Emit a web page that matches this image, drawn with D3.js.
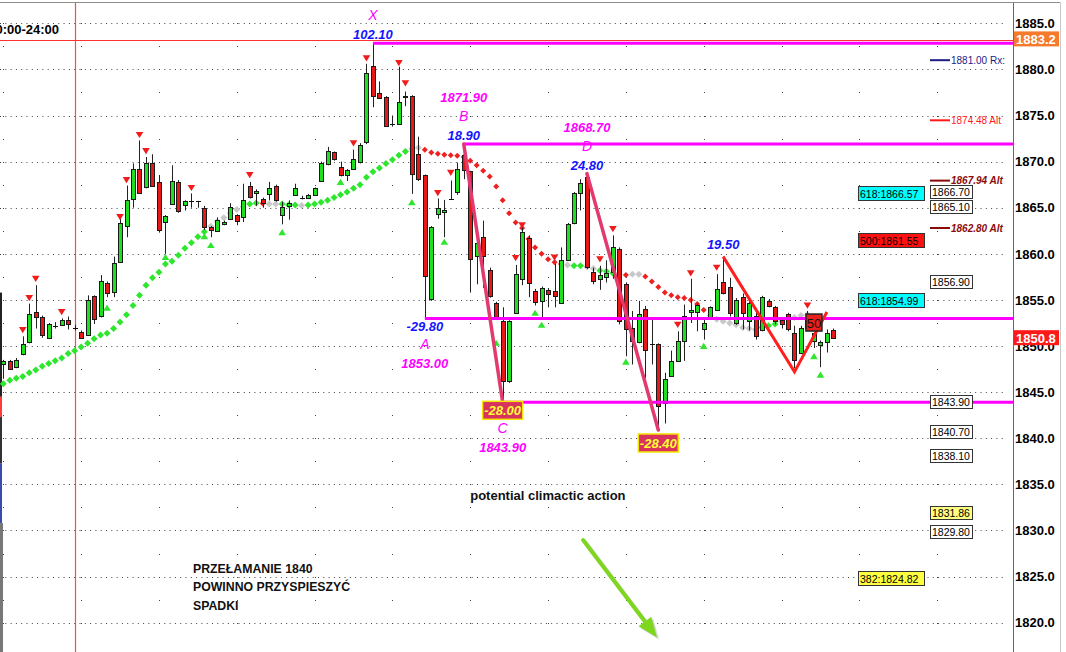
<!DOCTYPE html>
<html>
<head>
<meta charset="utf-8">
<script src="https://cdn.jsdelivr.net/npm/d3@7"></script>
<style>
  body { margin: 0; background: #fff; }
  svg { display: block; font-family: Arial, "Liberation Sans", sans-serif; }
</style>
</head>
<body>
<div id="display"></div>
<script>
// ---------- data ----------
// candles, one per bar, left to right
const openP = [
  1848.1,1848.4,1847.7,1849.1,1850.4,1853.7,1853.2,1850.9,1852.2,1852.25,
  1852.8,1852.0,1851.5,1851.2,1855.4,1853.3,1856.85,1855.9,1859.1,1863.0,
  1866.0,1869.2,1867.2,1869.8,1867.8,1863.4,1865.4,1867.8,1865.25,1865.75,
  1865.75,1865.0,1862.9,1862.5,1863.2,1863.8,1864.2,1864.0,1867.35,1866.55,
  1866.0,1866.5,1867.35,1864.2,1865.2,1866.4,1866.1,1866.1,1866.4,1867.9,
  1869.7,1871.0,1869.45,1868.55,1869.2,1870.0,1872.1,1880.35,1877.4,1877.0,
  1874.1,1874.1,1877.0,1877.1,1870.8,1868.5,1855.1,1864.3,1864.5,1865.95,
  1866.7,1870.7,1869.0,1859.8,1861.8,1858.3,1854.7,1852.7,1846.2,1853.6,
  1857.3,1861.75,1856.0,1854.9,1856.1,1856.0,1854.7,1859.35,1863.3,1866.6,
  1868.3,1858.0,1857.3,1857.45,1858.0,1860.55,1856.7,1852.0,1850.4,1854.0,
  1850.25,1850.25,1843.8,1846.8,1848.4,1850.55,1853.65,1853.7,1851.8,1853.1,
  1853.9,1857.0,1856.35,1852.5,1855.3,1852.7,1853.3,1851.7,1854.9,1854.2,
  1852.85,1853.5,1851.45,1849.3,1853.2,1850.55,1850.1,1850.4,1851.7
];
const highP = [
  1848.5,1848.5,1848.7,1851.05,1854.6,1856.6,1853.3,1852.5,1852.6,1853.0,
  1853.2,1852.3,1851.7,1855.5,1855.5,1857.7,1857.0,1859.7,1864.2,1867.4,
  1869.8,1872.3,1870.5,1870.8,1868.55,1864.2,1869.6,1868.0,1865.8,1866.55,
  1865.75,1865.2,1863.0,1863.95,1863.6,1865.5,1864.3,1867.6,1867.8,1867.0,
  1866.1,1867.8,1867.5,1865.65,1865.8,1867.6,1866.3,1866.5,1867.2,1870.0,
  1871.6,1871.1,1870.0,1869.2,1871.3,1872.0,1880.6,1882.85,1878.7,1877.1,
  1875.0,1880.3,1877.6,1877.2,1872.7,1868.6,1863.0,1866.0,1865.85,1867.95,
  1869.9,1871.9,1869.0,1861.8,1863.6,1858.5,1854.8,1854.2,1852.8,1858.8,
  1863.1,1862.0,1856.2,1856.45,1856.3,1858.9,1860.7,1863.35,1866.7,1868.1,
  1868.7,1858.5,1858.7,1859.3,1862.0,1860.7,1856.9,1853.8,1854.9,1854.35,
  1852.9,1850.3,1847.1,1849.5,1851.6,1854.5,1857.3,1854.6,1852.9,1854.3,
  1857.8,1859.7,1857.4,1855.2,1855.7,1854.9,1853.8,1855.45,1855.1,1854.35,
  1853.0,1853.6,1852.2,1852.2,1853.8,1851.5,1850.6,1851.8,1851.9
];
const lowP = [
  1846.45,1847.4,1847.6,1849.0,1850.3,1851.9,1850.9,1850.8,1851.9,1852.2,
  1851.8,1851.7,1850.8,1851.1,1852.4,1853.1,1855.3,1855.3,1859.0,1861.8,
  1865.0,1866.5,1867.1,1867.3,1862.3,1860.0,1865.3,1864.45,1864.7,1865.0,
  1865.0,1862.6,1861.8,1862.4,1863.1,1863.7,1863.1,1863.45,1866.0,1865.2,
  1865.0,1865.8,1865.65,1863.2,1863.7,1866.3,1865.9,1866.0,1866.35,1867.85,
  1869.6,1870.1,1868.4,1867.9,1869.1,1869.8,1871.9,1875.9,1876.8,1873.8,
  1873.8,1874.0,1876.0,1866.5,1867.9,1853.0,1854.9,1863.8,1861.8,1865.9,
  1866.4,1868.1,1855.8,1856.7,1856.3,1855.25,1853.0,1843.9,1846.0,1853.5,
  1856.6,1855.3,1854.4,1853.1,1854.2,1854.2,1854.6,1859.3,1863.2,1864.7,
  1858.35,1856.7,1856.1,1856.9,1857.3,1852.35,1848.9,1848.0,1850.3,1846.55,
  1848.0,1840.9,1841.6,1846.7,1848.3,1848.4,1852.5,1851.6,1850.7,1853.0,
  1853.8,1855.6,1853.2,1852.3,1851.8,1851.7,1850.7,1851.6,1854.2,1852.35,
  1851.9,1851.6,1847.6,1849.2,1851.8,1849.8,1847.7,1849.3,1850.8
];
const closeP = [
  1848.4,1847.5,1848.5,1850.2,1853.5,1853.1,1851.2,1852.4,1852.2,1852.8,
  1852.4,1852.0,1850.9,1855.0,1852.9,1857.1,1855.8,1859.0,1863.3,1865.8,
  1869.2,1866.6,1869.8,1867.4,1862.6,1864.1,1867.9,1864.6,1865.75,1865.75,
  1865.75,1862.9,1862.55,1863.7,1863.5,1865.1,1863.6,1865.8,1866.2,1866.85,
  1865.5,1867.1,1865.8,1865.1,1865.55,1867.1,1866.1,1866.4,1867.1,1869.9,
  1871.2,1870.25,1868.55,1869.1,1870.25,1871.8,1879.6,1877.1,1876.9,1873.9,
  1874.1,1876.45,1877.1,1868.7,1868.1,1857.6,1862.9,1865.0,1864.7,1865.95,
  1869.2,1869.1,1859.4,1861.2,1859.8,1855.4,1853.05,1846.2,1852.7,1857.85,
  1862.4,1856.8,1854.8,1856.3,1855.6,1855.45,1859.35,1863.2,1866.55,1867.7,
  1858.55,1857.1,1857.75,1857.9,1860.7,1852.7,1851.8,1850.55,1853.5,1849.6,
  1850.25,1843.45,1846.4,1848.4,1850.5,1853.3,1853.9,1854.4,1852.55,1854.25,
  1856.2,1855.7,1853.6,1855.0,1853.6,1854.7,1851.1,1855.3,1854.35,1852.7,
  1852.4,1851.8,1848.5,1852.0,1852.0,1851.4,1850.4,1851.45,1850.9
];

// trailing-stop dots (one per bar from the first) and their state: g up, r down, n neutral
const trailP = [
  1845.9,1846.3,1846.5,1846.7,1847.1,1847.4,1847.8,1848.1,1848.4,1848.7,
  1849.2,1849.5,1849.9,1850.3,1850.8,1851.2,1851.4,1851.9,1852.6,1853.4,
  1854.4,1855.5,1856.6,1857.4,1858.0,1858.9,1859.2,1859.85,1860.6,1861.2,
  1861.85,1862.4,1863.0,1863.5,1863.9,1864.4,1864.8,1865.1,1865.4,1865.5,
  1865.45,1865.4,1865.4,1865.4,1865.3,1865.3,1865.25,1865.3,1865.4,1865.6,
  1865.8,1866.1,1866.4,1866.7,1867.1,1867.5,1868.3,1868.9,1869.3,1869.8,
  1870.2,1870.7,1871.1,1871.4,1871.5,1871.3,1871.0,1870.85,1870.75,1870.7,
  1870.65,1870.5,1870.1,1869.6,1869.0,1868.4,1867.3,1865.8,1864.4,1863.4,
  1862.8,1861.6,1860.7,1860.0,1859.4,1859.1,1858.9,1858.8,1858.7,1858.7,
  1858.6,1858.4,1858.2,1858.1,1857.9,1857.8,1857.7,1857.8,1857.8,1857.55,
  1857.0,1856.4,1855.8,1855.5,1855.3,1855.2,1855.0,1854.55,1853.9,1853.3,
  1852.9,1852.7,1852.5,1852.3,1852.0,1851.9,1851.8,1852.0,1852.2,1852.4,
  1852.7,1852.9,1853.1,1853.3,1853.4
];
const trailState = ('gggggggggggggggggggggggggggggggg' + 'nnnnnn' + 'gg' + 'r' + 'nn' +
  'ggg' + 'n' + 'gggggggggggggggg' + 'nn' + 'rrrrrrrrrrrrrrrrrrrrrr' + 'n' + 'gg' +
  'nn' + 'ggg' + 'rr' + 'nn' + 'rrrrrrrrrr' + 'nnnnnnnn' + 'ggg' + 'nnnnn').split('');

// pivot markers
const pivotHighIdx = [3,4,5,9,18,19,21,22,29,38,54,56,61,62,67,69,79,80,85,92,94,104,106,110,124];
const pivotHighVal = [1851.74,1855.2,1857.3,1853.7,1864.0,1868.0,1872.9,1871.15,1867.15,1868.55,
  1872.0,1881.2,1880.7,1878.5,1866.6,1868.8,1859.55,1863.1,1859.6,1859.4,1862.7,1852.3,1857.9,1858.5,1854.4];
const pivotLowIdx = [16,25,31,32,43,52,63,68,76,82,83,96,108,125,126];
const pivotLowVal = [1854.15,1859.65,1861.9,1860.95,1862.35,1867.8,1865.6,1861.3,1850.35,
  1853.6,1852.3,1848.3,1850.0,1848.9,1846.9];

// harmonic pattern swings
const swingName = ['X','A','B','C','D'];
const swingIdx = [57,65,71,77,90];
const swingVal = [1882.85,1853.0,1871.9,1843.9,1868.7];
const swingMove = ['102.10','-29.80','18.90','-28.00','24.80'];
const swingPriceText = ['','1853.00','1871.90','1843.90','1868.70'];
const legFrom = [71, 90];
const legTo = [77, 101];
const legFromVal = [1871.9, 1868.7];
const legToVal = [1843.9, 1840.9];
const extraMove = '-28.40';

// small red zigzag
const zigIdx = [111, 122, 127];
const zigVal = [1859.7, 1847.2, 1853.7];
const zigMove = '19.50';
const retraceText = '50';
const retraceIdx = 125;
const retraceVal = 1852.55;

// price scale
const priceTicks = [1820,1825,1830,1835,1840,1845,1850,1855,1860,1865,1870,1875,1880,1885];
const lastLabelVal = [1883.2, 1850.8];
const sessionIdx = 11;

// right-side levels
const fibRatio = ['618','500','618','382'];
const fibLevel = [1866.57, 1861.55, 1854.99, 1824.82];
const boxLevel = [1866.70, 1865.10, 1856.90, 1843.90, 1840.70, 1838.10, 1831.86, 1829.80];
const targetLevel = [1881.00, 1874.48, 1867.94, 1862.80];
const targetTag = ['Rx:', 'Alt', 'Alt', 'Alt'];

// notes
const noteText = 'potential climactic action';
const noteLines = ['PRZEŁAMANIE 1840', 'POWINNO PRZYSPIESZYĆ', 'SPADKI'];

// ---------- drawing ----------
const W = 1066, H = 652;
const axisX = 1013;

const svg = d3.select('#display')
    .append('svg')
        .attr('width', W)
        .attr('height', H);

svg.append('rect').attr('width', W).attr('height', H).attr('fill', '#fff');

const x = d3.scaleLinear().domain([0, 128]).range([3.3, 833.4]);
const y = d3.scaleLinear().domain([1820, 1885]).range([622.7, 23.3]);
const px = i => Math.round(x(i));
const py = v => Math.round(y(v));

// frame
svg.append('line').attr('x1', 0).attr('x2', 1060).attr('y1', 2.5).attr('y2', 2.5)
    .attr('stroke', '#8c8c8c');
svg.append('line').attr('x1', 1060.5).attr('x2', 1060.5).attr('y1', 2.5).attr('y2', H)
    .attr('stroke', '#c8c8c8');

// dotted grid
const grid = svg.append('g');
grid.selectAll('line')
    .data(priceTicks)
    .enter()
    .append('line')
        .attr('x1', 0).attr('x2', 1006)
        .attr('y1', d => py(d) + 0.5).attr('y2', d => py(d) + 0.5)
        .attr('stroke', '#444')
        .attr('stroke-dasharray', '1,4.3');

// column dots every 12 bars
const cols = d3.range(0, 156, 12).filter(i => x(i) < 1000);
const halfSteps = d3.range(1820, 1886, 2.5);
cols.forEach(c => {
    grid.selectAll(null)
        .data(halfSteps)
        .enter()
        .append('rect')
            .attr('x', px(c)).attr('y', d => py(d))
            .attr('width', 1).attr('height', 1)
            .attr('fill', '#444');
});

// left edge strip (partly hidden profile)
const stripTop = [1855.8, 1844.5, 1842.3, 1837.3, 1830.8];
const stripBot = [1844.5, 1842.3, 1837.3, 1830.8, 1816.5];
const stripCol = ['#222', '#ff3b3b', '#333', '#3a4bb0', '#777'];
svg.selectAll('rect.strip')
    .data(stripTop)
    .enter()
    .append('rect')
        .attr('class', 'strip')
        .attr('x', 0).attr('width', (d, i) => i === 4 ? 3 : 2)
        .attr('y', d => y(d))
        .attr('height', (d, i) => y(stripBot[i]) - y(d))
        .attr('fill', (d, i) => stripCol[i]);

// session line and last-high line
svg.append('line')
    .attr('x1', px(sessionIdx) + 0.5).attr('x2', px(sessionIdx) + 0.5)
    .attr('y1', 3).attr('y2', H)
    .attr('stroke', '#ff4a4a').attr('stroke-width', 1.2);
svg.append('line')
    .attr('x1', 0).attr('x2', axisX)
    .attr('y1', py(lastLabelVal[0]) + 0.5).attr('y2', py(lastLabelVal[0]) + 0.5)
    .attr('stroke', '#ff3030');

// top-left session text
svg.append('text')
    .attr('x', 59).attr('y', 34)
    .attr('text-anchor', 'end')
    .attr('font-size', 13).attr('font-weight', 'bold')
    .text('00:00-24:00');

// trailing dots
const trailColor = {g: '#2ee62e', r: '#ee2020', n: '#c8c8c8'};
svg.append('g')
    .selectAll('path')
    .data(trailP)
    .enter()
    .append('path')
        .attr('transform', (d, i) => 'translate(' + x(i) + ',' + y(d) + ')')
        .attr('d', (d, i) => {
            const r = trailState[i] === 'r' ? 3 : 3.5;
            return 'M0,' + (-r) + 'L' + r + ',0L0,' + r + 'L' + (-r) + ',0Z';
        })
        .attr('fill', (d, i) => trailColor[trailState[i]]);

// candles
const bars = d3.range(openP.length);
const cg = svg.append('g');
cg.selectAll('line.wick')
    .data(bars)
    .enter()
    .append('line')
        .attr('class', 'wick')
        .attr('x1', i => px(i) + 0.5).attr('x2', i => px(i) + 0.5)
        .attr('y1', i => y(highP[i])).attr('y2', i => y(lowP[i]))
        .attr('stroke', '#222');
cg.selectAll('rect')
    .data(bars.filter(i => Math.abs(openP[i] - closeP[i]) >= 0.05))
    .enter()
    .append('rect')
        .attr('x', i => px(i) - 2 + 0.5)
        .attr('y', i => py(Math.max(openP[i], closeP[i])) + 0.5)
        .attr('width', 4)
        .attr('height', i => Math.max(1, py(Math.min(openP[i], closeP[i])) - py(Math.max(openP[i], closeP[i]))))
        .attr('fill', i => closeP[i] > openP[i] ? '#1ee01e' : '#e81818')
        .attr('stroke', '#1a1a1a');
cg.selectAll('line.doji')
    .data(bars.filter(i => Math.abs(openP[i] - closeP[i]) < 0.05))
    .enter()
    .append('line')
        .attr('class', 'doji')
        .attr('x1', i => px(i) - 2).attr('x2', i => px(i) + 3)
        .attr('y1', i => py(openP[i]) + 0.5).attr('y2', i => py(openP[i]) + 0.5)
        .attr('stroke', '#111');

// magenta swing levels (X, B, A, C)
const levelSwings = [0, 2, 1, 3];
svg.append('g')
    .selectAll('line')
    .data(levelSwings)
    .enter()
    .append('line')
        .attr('x1', k => x(swingIdx[k])).attr('x2', axisX)
        .attr('y1', k => y(swingVal[k])).attr('y2', k => y(swingVal[k]))
        .attr('stroke', '#ff00ff').attr('stroke-width', 3);

// pivot triangles
svg.append('g')
    .selectAll('path')
    .data(pivotHighIdx)
    .enter()
    .append('path')
        .attr('transform', (d, i) => 'translate(' + x(d) + ',' + y(pivotHighVal[i]) + ')')
        .attr('d', 'M-3.8,-3L3.8,-3L0,3.2Z')
        .attr('fill', '#f01c1c');
svg.append('g')
    .selectAll('path')
    .data(pivotLowIdx)
    .enter()
    .append('path')
        .attr('transform', (d, i) => 'translate(' + x(d) + ',' + y(pivotLowVal[i]) + ')')
        .attr('d', 'M-3.8,3L3.8,3L0,-3.2Z')
        .attr('fill', '#2ee62e');

// pattern legs
svg.append('g')
    .selectAll('line')
    .data(legFrom)
    .enter()
    .append('line')
        .attr('x1', d => x(d)).attr('y1', (d, i) => y(legFromVal[i]))
        .attr('x2', (d, i) => x(legTo[i])).attr('y2', (d, i) => y(legToVal[i]))
        .attr('stroke', '#e23a6e').attr('stroke-width', 3.5)
        .attr('stroke-linecap', 'round');

// red zigzag
const zig = d3.line().x(d => x(d)).y((d, i) => y(zigVal[i]));
svg.append('path')
    .attr('d', zig(zigIdx))
    .attr('fill', 'none')
    .attr('stroke', '#ff1f1f').attr('stroke-width', 3)
    .attr('stroke-linejoin', 'miter');

// 50% box
const rb = svg.append('g').attr('transform', 'translate(' + x(retraceIdx) + ',' + y(retraceVal) + ')');
rb.append('rect').attr('x', -8).attr('y', -8.5).attr('width', 16).attr('height', 17)
    .attr('fill', '#e8201c').attr('stroke', '#222').attr('stroke-width', 1.5);
rb.append('text').attr('y', 5).attr('text-anchor', 'middle')
    .attr('font-size', 13).attr('fill', '#111').text(retraceText);

// swing labels
const labels = svg.append('g').attr('text-anchor', 'middle');
const magenta = '#ff00ff', blue = '#1414ff';
swingName.forEach((name, k) => {
    const cx = x(swingIdx[k]);
    const cy = y(swingVal[k]);
    const isHigh = name === 'X' || name === 'B' || name === 'D';
    const priceY = isHigh ? cy - 42 : cy + 50;
    const letterY = isHigh ? cy - 23 : cy + 31;
    const moveY = isHigh ? cy - 4 : cy + 13;
    if (swingPriceText[k]) {
        labels.append('text').attr('x', cx).attr('y', priceY)
            .attr('font-size', 13).attr('font-weight', 'bold').attr('font-style', 'italic')
            .attr('fill', magenta).text(swingPriceText[k]);
    }
    labels.append('text').attr('x', cx).attr('y', letterY)
        .attr('font-size', 14).attr('font-style', 'italic')
        .attr('fill', magenta).text(name);
    if (name === 'C') {
        moveBox(cx, cy + 8, swingMove[k]);
    } else {
        labels.append('text').attr('x', cx).attr('y', moveY)
            .attr('font-size', 13).attr('font-weight', 'bold').attr('font-style', 'italic')
            .attr('fill', blue).text(swingMove[k]);
    }
});
moveBox(x(legTo[1]), y(legToVal[1]) + 13, extraMove);

labels.append('text')
    .attr('x', x(zigIdx[0])).attr('y', y(zigVal[0]) - 8)
    .attr('font-size', 13).attr('font-weight', 'bold').attr('font-style', 'italic')
    .attr('fill', blue).text(zigMove);

function moveBox(cx, cy, txt) {
    labels.append('rect')
        .attr('x', cx - 20).attr('y', cy - 9)
        .attr('width', 40).attr('height', 18)
        .attr('fill', '#d8335f').attr('stroke', '#f2e600').attr('stroke-width', 1.5);
    labels.append('text').attr('x', cx).attr('y', cy + 5)
        .attr('font-size', 13).attr('font-weight', 'bold').attr('font-style', 'italic')
        .attr('fill', '#ffff33').text(txt);
}

// right-side level labels
const rg = svg.append('g').attr('font-size', 10.5);
const fibFill = {'618': '#00ffff', '500': '#ff1010', '382': '#ffff40'};
fibLevel.forEach((v, i) => {
    rg.append('rect').attr('x', 858.5).attr('y', py(v) - 6.5).attr('width', 66).attr('height', 14)
        .attr('fill', fibFill[fibRatio[i]]).attr('stroke', '#333');
    rg.append('text').attr('x', 860).attr('y', py(v) + 4.5)
        .text(fibRatio[i] + ':' + v.toFixed(2));
});
boxLevel.forEach(v => {
    rg.append('rect').attr('x', 930.5).attr('y', py(v) - 6.5).attr('width', 42).attr('height', 13)
        .attr('fill', v === 1831.86 ? '#ffff80' : '#fff').attr('stroke', '#333');
    rg.append('text').attr('x', 932).attr('y', py(v) + 4)
        .text(v.toFixed(2));
});
const targetColor = ['#1c1c86', '#ff1a1a', '#8b0a0a', '#8b0a0a'];
targetLevel.forEach((v, i) => {
    rg.append('line').attr('x1', 930).attr('x2', 950).attr('y1', y(v)).attr('y2', y(v))
        .attr('stroke', targetColor[i]).attr('stroke-width', 2);
    rg.append('text').attr('x', 951).attr('y', y(v) + 3.8)
        .attr('font-size', 10)
        .attr('font-weight', i >= 2 ? 'bold' : 'normal')
        .attr('font-style', i >= 2 ? 'italic' : 'normal')
        .attr('fill', targetColor[i])
        .text(v.toFixed(2) + ' ' + targetTag[i]);
});

// price axis
svg.append('rect').attr('x', axisX).attr('y', 3).attr('width', 47).attr('height', H).attr('fill', '#fff');
const ag = svg.append('g')
    .attr('transform', 'translate(' + axisX + ',0)')
    .call(d3.axisRight(y).tickValues(priceTicks).tickFormat(d3.format('.1f')).tickSize(0).tickPadding(2));
ag.select('.domain').remove();
ag.selectAll('text')
    .attr('font-size', 13).attr('font-weight', 'bold')
    .attr('font-family', 'Arial, "Liberation Sans", sans-serif').attr('fill', '#000');
svg.append('line').attr('x1', axisX + 0.5).attr('x2', axisX + 0.5).attr('y1', 3).attr('y2', H)
    .attr('stroke', '#666');

const lastFill = ['#f57a2c', '#ff1a1a'];
lastLabelVal.forEach((v, i) => {
    svg.append('rect').attr('x', axisX + 1).attr('y', y(v) - 8.5).attr('width', 45).attr('height', 15)
        .attr('fill', lastFill[i]);
    svg.append('text').attr('x', axisX + 3).attr('y', y(v) + 4)
        .attr('font-size', 13).attr('font-weight', 'bold').attr('fill', '#fff')
        .text(v.toFixed(1));
});

// notes
svg.append('text')
    .attr('x', x(72)).attr('y', y(1833.3))
    .attr('font-size', 13).attr('font-weight', 'bold').attr('fill', '#111')
    .text(noteText);
const nt = svg.append('text')
    .attr('x', x(29.25)).attr('y', y(1825.4))
    .attr('font-size', 12.3).attr('font-weight', 'bold').attr('fill', '#111');
noteLines.forEach((t, i) => {
    nt.append('tspan').attr('x', x(29.25)).attr('dy', i === 0 ? 0 : 18.3).text(t);
});

// green arrow
const arrowIdx = [89.4, 100.8];
const arrowVal = [1828.96, 1818.4];
const ax0 = x(arrowIdx[0]), ay0 = y(arrowVal[0]), ax1 = x(arrowIdx[1]), ay1 = y(arrowVal[1]);
const len = Math.hypot(ax1 - ax0, ay1 - ay0);
const ux = (ax1 - ax0) / len, uy = (ay1 - ay0) / len;
const headL = 20, headW = 8;
const bx = ax1 - ux * headL, by = ay1 - uy * headL;
function drawArrow(dx, dy, col, op) {
    const ag2 = svg.append('g').attr('transform', 'translate(' + dx + ',' + dy + ')').attr('opacity', op);
    ag2.append('line').attr('x1', ax0).attr('y1', ay0).attr('x2', bx).attr('y2', by)
        .attr('stroke', col).attr('stroke-width', 4).attr('stroke-linecap', 'round');
    ag2.append('path')
        .attr('d', 'M' + ax1 + ',' + ay1 +
            'L' + (bx - uy * headW) + ',' + (by + ux * headW) +
            'L' + (bx + uy * headW) + ',' + (by - ux * headW) + 'Z')
        .attr('fill', col);
}
drawArrow(2, 2, '#888', 0.35);
drawArrow(0, 0, '#7fd61f', 1);
</script>
</body>
</html>
